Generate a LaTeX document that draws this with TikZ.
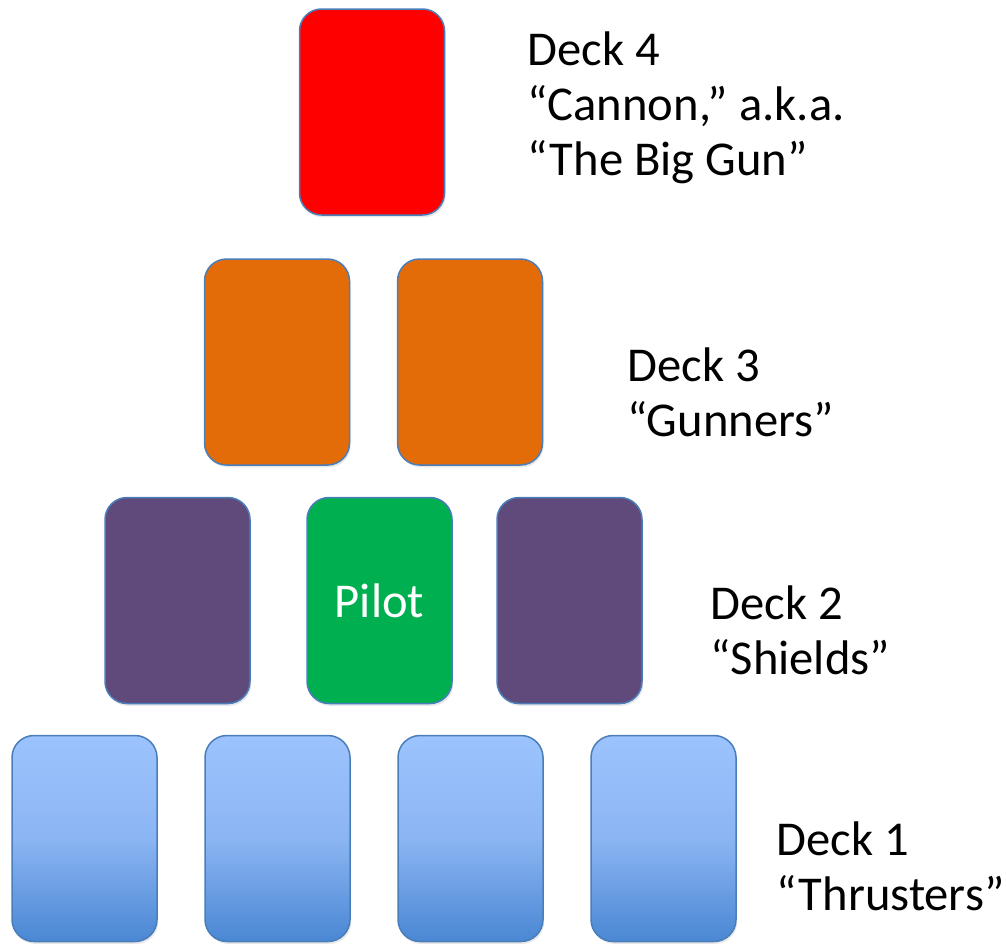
\documentclass[tikz,border=0pt]{standalone}
\usepackage{fontspec}
\setmainfont{Carlito}
\usetikzlibrary{positioning,shadows}

\definecolor{cardedge}{HTML}{4A7EBB}
\definecolor{cannonred}{HTML}{FF0000}
\definecolor{gunnerorange}{HTML}{E36C09}
\definecolor{shieldpurple}{HTML}{604A7B}
\definecolor{pilotgreen}{HTML}{00B050}
\definecolor{thrustertop}{HTML}{9CC3FD}
\definecolor{thrustermid}{HTML}{8BB5F3}
\definecolor{thrusterbot}{HTML}{4A87D3}

\begin{document}
\begin{tikzpicture}[
    x=0.5pt, y=-0.5pt,
    every node/.style={font=\fontsize{24.3}{27.5}\selectfont},
    card/.style={draw=cardedge, line width=0.75pt, rounded corners=11pt,
        minimum width=72.5pt, minimum height=103pt, outer sep=0pt, inner sep=0pt,
        drop shadow={shadow xshift=0.6pt, shadow yshift=-1.2pt, opacity=0.18}},
    cannon/.style={card, fill=cannonred},
    gunner/.style={card, fill=gunnerorange},
    shield/.style={card, fill=shieldpurple},
    pilot/.style={card, fill=pilotgreen, text=white},
    thruster/.style={card, top color=thrustertop, bottom color=thrusterbot, middle color=thrustermid},
    decklabel/.style={align=left, anchor=north west, inner sep=0pt},
]
\useasboundingbox (0,0) rectangle (1006,943);

% ---- Deck 4 ----
\node[cannon] (cannon) at (372,112) {};
\node[decklabel] (deck4) at (527,31) {Deck 4\\“Cannon,” a.k.a.\\“The Big Gun”};

% ---- Deck 3 ----
\node[gunner] (gun1) at (277,362) {};
\node[gunner, right=24pt of gun1] (gun2) {};
\node[decklabel] (deck3) at (627,347) {Deck 3\\“Gunners”};

% ---- Deck 2 ----
\node[shield] (shield1) at (177.5,600.5) {};
\node[pilot, right=28.5pt of shield1] (pilot) {Pilot};
\node[shield, right=22.5pt of pilot] (shield2) {};
\node[decklabel] (deck2) at (710,585) {Deck 2\\“Shields”};

% ---- Deck 1 ----
\node[thruster] (thr1) at (84.5,838.5) {};
\node[thruster, right=24pt of thr1] (thr2) {};
\node[thruster, right=24pt of thr2] (thr3) {};
\node[thruster, right=24pt of thr3] (thr4) {};
\node[decklabel] (deck1) at (776,821) {Deck 1\\“Thrusters”};

\end{tikzpicture}
\end{document}
